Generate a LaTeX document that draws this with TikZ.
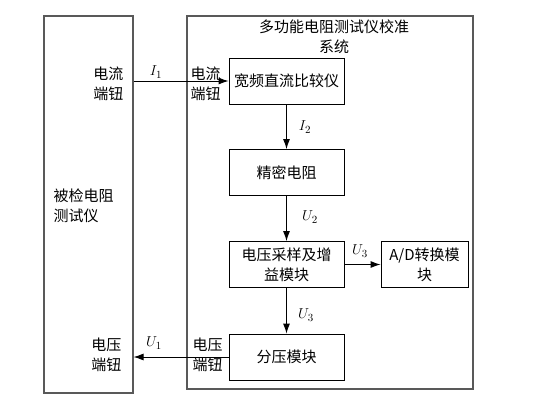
\documentclass[tikz,border=0pt]{standalone}
\usepackage{fontspec}
\setmainfont{Noto Sans CJK SC}
\usetikzlibrary{arrows.meta}

\begin{document}
\begin{tikzpicture}[x=1pt, y=-1pt, font=\fontsize{15}{20}\selectfont]

\def\bw{115}
\def\bh{46}
\def\xc{286.5}

\tikzset{outerbox/.style={draw=black!65, line width=1.1pt, inner sep=0pt}}
\tikzset{block/.style={draw, line width=0.9pt, minimum width=\bw pt, minimum height=\bh pt,
                       align=center, inner sep=1pt}}
\tikzset{flow/.style={line width=0.9pt, -{Latex[length=10pt, width=7pt]}}}

\useasboundingbox (0,0) rectangle (533,402);

% outer frames
\node[outerbox, minimum width=89pt,  minimum height=377pt] (tester) at (88.5,204.5) {};
\node[outerbox, minimum width=286pt, minimum height=373pt] (sys)    at (330,202.5) {};

\node[align=center] (title) at (334,37) {多功能电阻测试仪校准\\系统};
\node[align=left, anchor=west] (tname) at (50,206) {被检电阻\\测试仪};

% blocks
\node[block] (cmp)  at (\xc,81)    {宽频直流比较仪};
\node[block] (res)  at (\xc,172.5) {精密电阻};
\node[block] (samp) at (\xc,264.5) {电压采样及增\\益模块};
\node[block, minimum width=87pt] (adc) at (424.5,264.5) {A/D转换模\\块};
\node[block] (div)  at (\xc,357)   {分压模块};

% terminals
\node[align=right, anchor=east] (tcl) at (127,84)  {电流\\端钮};
\node[align=left,  anchor=west] (tcr) at (187,84)  {电流\\端钮};
\node[align=right, anchor=east] (tvl) at (125,355) {电压\\端钮};
\node[align=left,  anchor=west] (tvr) at (189,355) {电压\\端钮};

% signals
\draw[flow] (tester.east |- cmp.west) -- (cmp.west);
\draw[flow] (cmp.south) -- (res.north);
\draw[flow] (res.south) -- (samp.north);
\draw[flow] (samp.east) -- (adc.west);
\draw[flow] (samp.south) -- (div.north);
\draw[flow] (div.west) -- (tester.east |- div.west);

\node (li1) at (156,72)  {$I_1$};
\node (li2) at (305,127) {$I_2$};
\node (lu2) at (310,217) {$U_2$};
\node (lu3) at (360,251) {$U_3$};
\node (lu4) at (306,315) {$U_3$};
\node (lu1) at (154,343) {$U_1$};

\end{tikzpicture}
\end{document}
